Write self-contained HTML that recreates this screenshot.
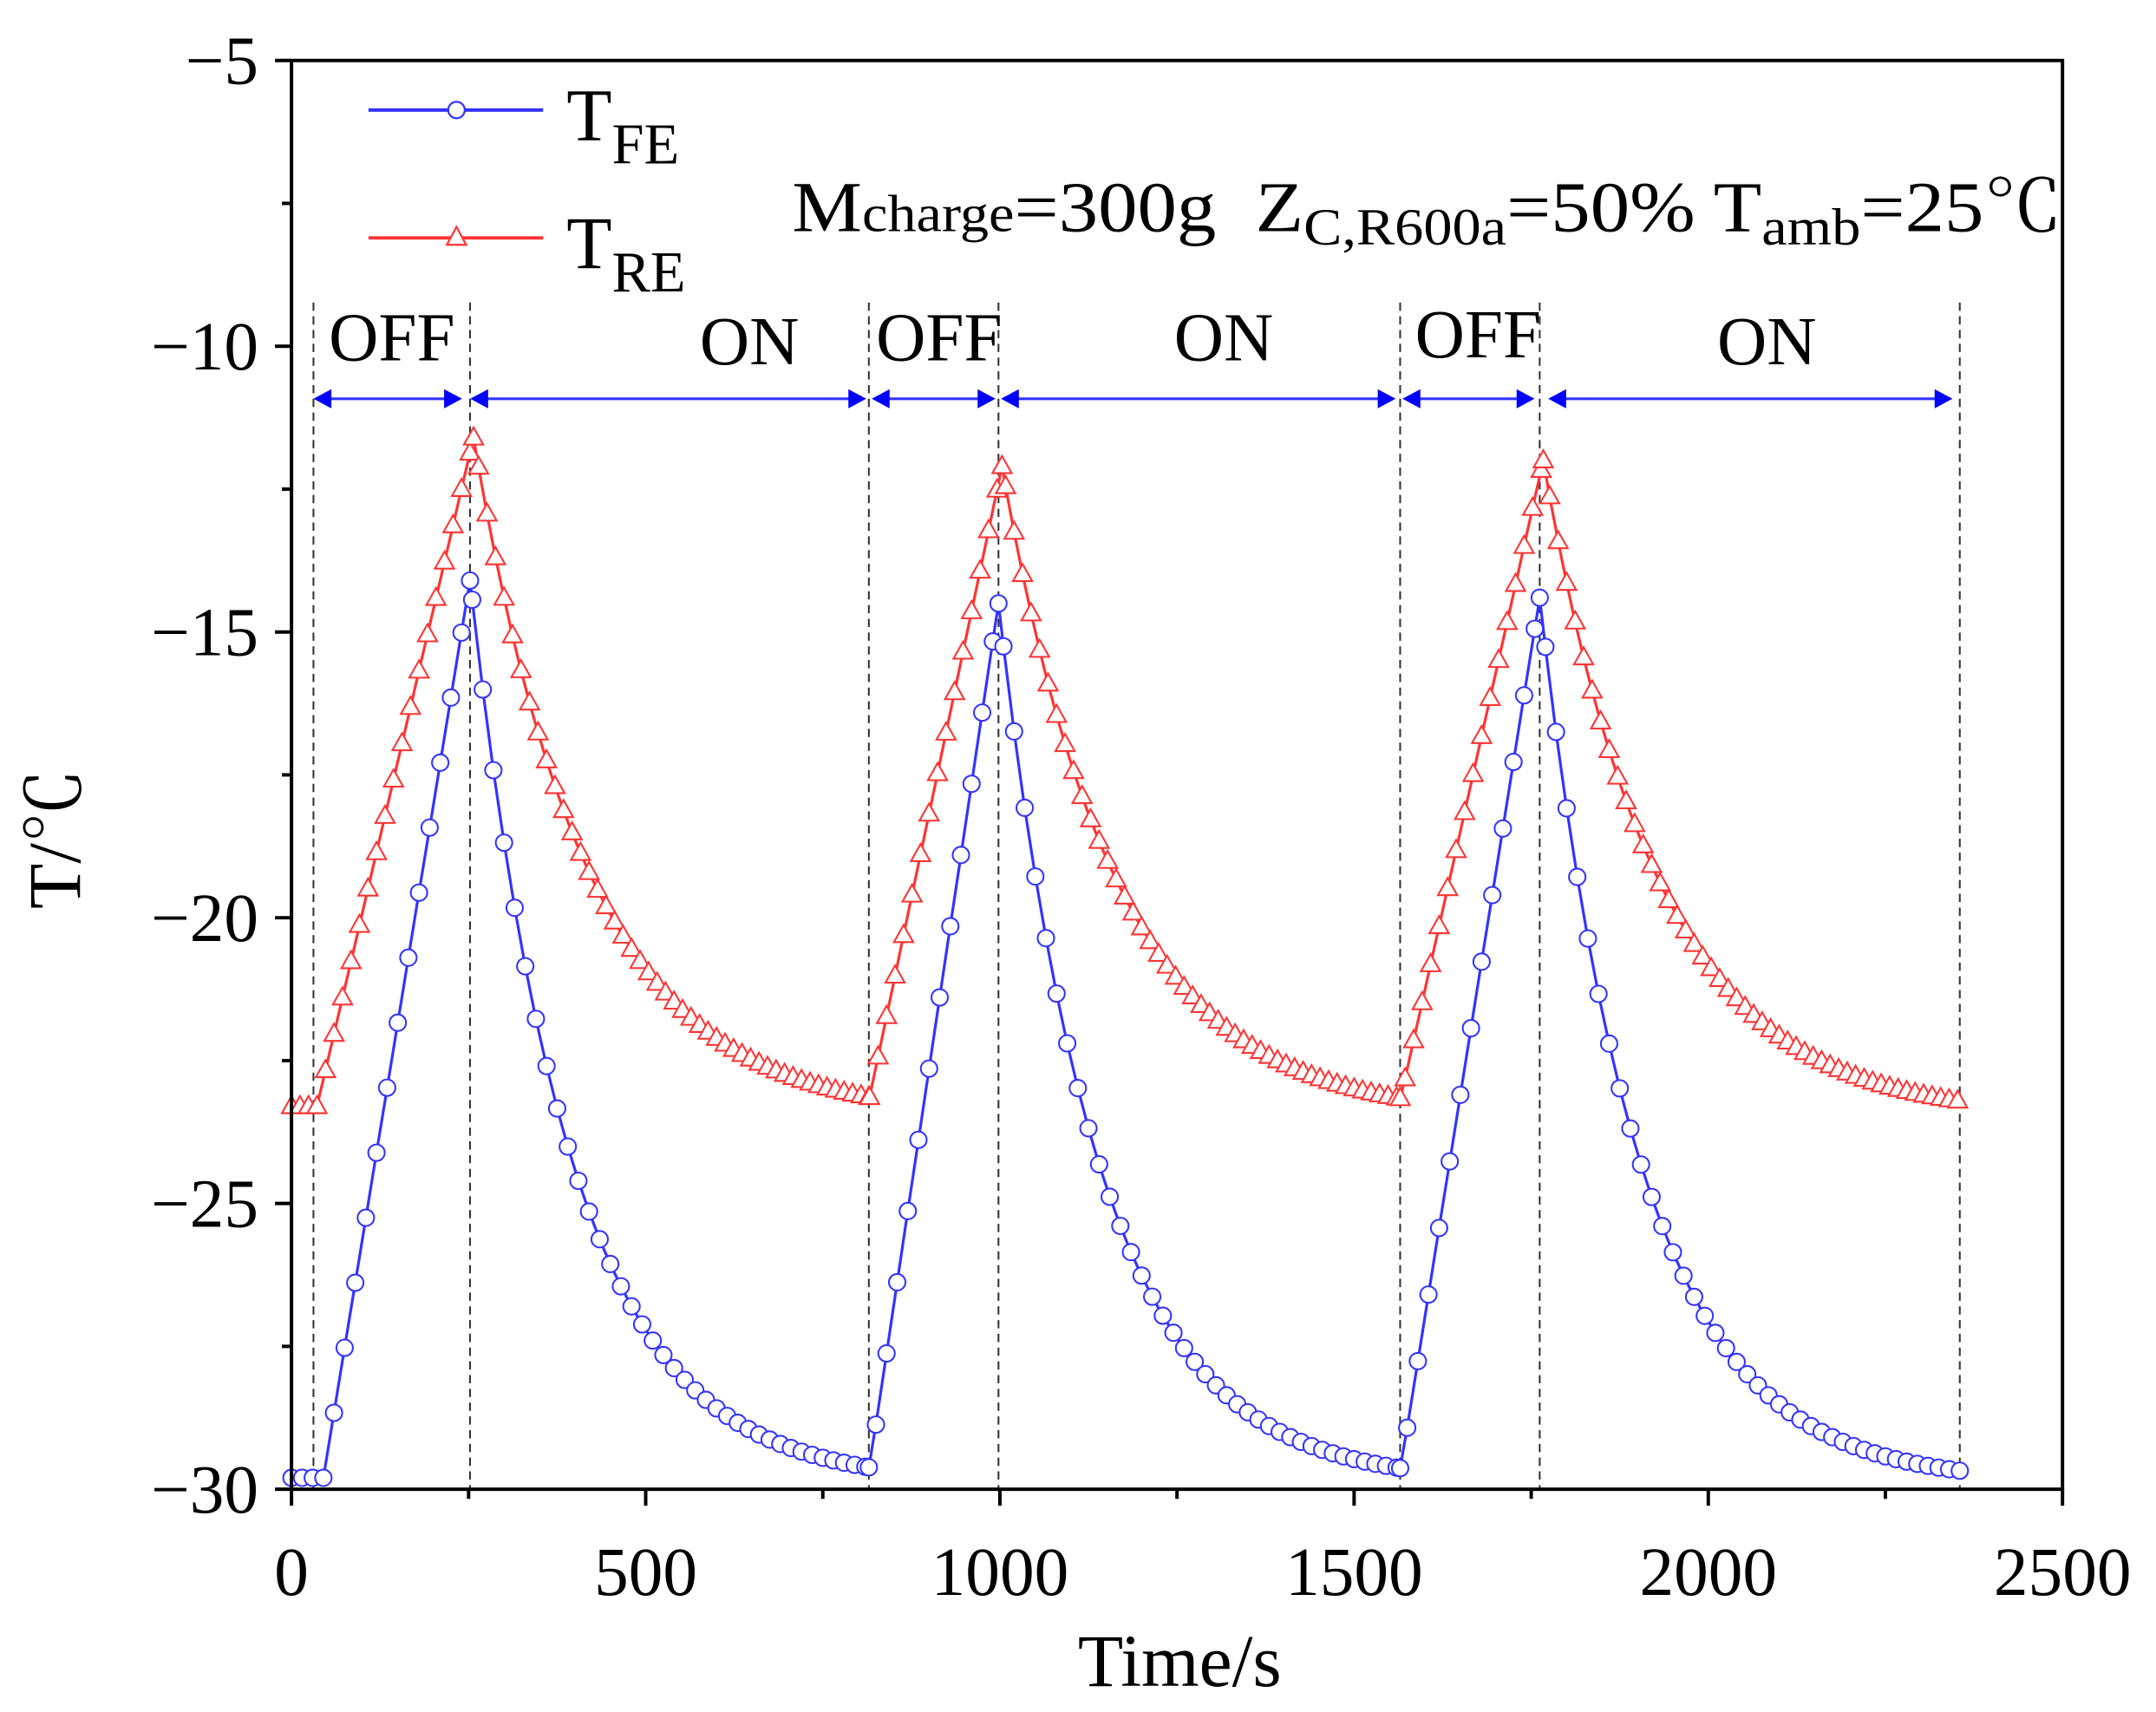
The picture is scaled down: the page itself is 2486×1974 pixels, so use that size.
<!DOCTYPE html>
<html><head><meta charset="utf-8"><style>
html,body{margin:0;padding:0;background:#fff;}
svg{display:block;}
text{font-family:"Liberation Serif","Noto Serif CJK SC",serif;fill:#000;}
</style></head><body>
<svg id="s" width="2486" height="1974" viewBox="0 0 1568 1245" preserveAspectRatio="none" xmlns="http://www.w3.org/2000/svg">
<rect width="1568" height="1245" fill="#fff"/>
<g id="dash" stroke="#333" stroke-width="1.3" stroke-dasharray="6,4"></g>
<g id="series"></g>
<rect x="212" y="44" width="1288" height="1039" fill="none" stroke="#000" stroke-width="2.5"/>
<g id="ticks" stroke="#000" stroke-width="2.5"></g>
<g id="labels" font-size="50"></g>
<g id="arrows"></g>
<line x1="268" y1="80" x2="395" y2="80" stroke="#3333ff" stroke-width="2.5"/>
<circle cx="332" cy="80" r="6" fill="#fff" stroke="#3333ff" stroke-width="1.4"/>
<text x="412" y="102" font-size="54">T<tspan font-size="42" dy="17">FE</tspan></text>
<line x1="268" y1="173" x2="395" y2="173" stroke="#ff3333" stroke-width="2.5"/>
<polygon points="332,165 339,178 325,178" fill="#fff" stroke="#ff3333" stroke-width="1.4"/>
<text x="412" y="195" font-size="54">T<tspan font-size="42" dy="17">RE</tspan></text>
<text x="576" y="168" font-size="52" textLength="924" lengthAdjust="spacingAndGlyphs">M<tspan font-size="38">charge</tspan>=300g&#160; Z<tspan font-size="38" dy="10">C,R600a</tspan><tspan dy="-10">=50% T</tspan><tspan font-size="38" dy="10">amb</tspan><tspan dy="-10">=25℃</tspan></text>
<text x="858" y="1226" font-size="54" text-anchor="middle">Time/s</text>
<text transform="translate(58,610) rotate(-90)" font-size="54" text-anchor="middle">T/℃</text>
</svg>
<script>
const NS="http://www.w3.org/2000/svg";
const X=t=>212+t*1288/2500, Y=v=>44+(-5-v)*1039/25;
function el(p,tag,a,txt){const e=document.createElementNS(NS,tag);for(const k in a)e.setAttribute(k,a[k]);if(txt)e.textContent=txt;document.getElementById(p).appendChild(e);return e;}
for(let v=-5;v>=-30;v-=2.5){const y=Y(v);const maj=(v%5===0);el('ticks','line',{x1:212,y1:y,x2:maj?200:205,y2:y});
 if(maj) el('labels','text',{x:188,y:y+17,'text-anchor':'end'},'\u2212'+Math.abs(v));}
for(let t=0;t<=2500;t+=250){const x=X(t);const maj=(t%500===0);el('ticks','line',{x1:x,y1:1083,x2:x,y2:maj?1095:1090});
 if(maj) el('labels','text',{x:x,y:1160,'text-anchor':'middle'},String(t));}
[31,252,815,998,1565,1762,2355].forEach(t=>el('dash','line',{x1:X(t),y1:220,x2:X(t),y2:1083}));
const ay=290;
[[228,336],[342,630],[634,724],[728,1015],[1020,1116],[1126,1420]].forEach(([a,b])=>{
 el('arrows','line',{x1:a+8,y1:ay,x2:b-8,y2:ay,stroke:'#3333ff','stroke-width':2});
 el('arrows','polygon',{points:`${a},${ay} ${a+13},${ay-7} ${a+13},${ay+7}`,fill:'#0000ff'});
 el('arrows','polygon',{points:`${b},${ay} ${b-13},${ay-7} ${b-13},${ay+7}`,fill:'#0000ff'});
});
[['OFF',285,262],['ON',545,265],['OFF',683,262],['ON',890,262],['OFF',1075,260],['ON',1285,265]].forEach(([s,x,y])=>el('labels','text',{x:x,y:y,'text-anchor':'middle'},s));
const cycles=[{s:31,p:252,e:815},{s:815,p:998,e:1565},{s:1565,p:1762,e:2355}];
function blue(t){
 if(t<=45)return -29.8;
 for(let i=0;i<3;i++){const c=cycles[i]; if(t<=c.e+0.01){
   const pk=[-14.1,-14.5,-14.4][i];
   const st=(i===0)?45:c.s; const sv=(i===0)?-29.8:-29.7;
   if(t<=c.p) return sv+(pk-sv)*(t-st)/(c.p-st);
   return -29.9+(pk+29.9)*Math.exp(-(t-c.p)/140);
 }}
 return -29.7;}
function red(t){
 if(t<=38)return -23.3;
 for(let i=0;i<3;i++){const c=cycles[i]; if(t<=c.e+0.01){
   const pk=[-11.6,-12.1,-12.0][i];const pt=c.p+5;
   const st=(i===0)?38:c.s; const sv=-23.2;
   if(t<=pt) return sv+(pk-sv)*(t-st)/(pt-st);
   return -23.5+(pk+23.5)*Math.exp(-(t-pt)/160);
 }}
 return -23.2;}
function series(f,dt,col,mk,extra){
 let pts=[];
 for(let t=0;t<=2355;t+=dt){pts.push([t,f(t)]);}
 extra.forEach(t=>pts.push([t,f(t)]));
 pts.sort((a,b)=>a[0]-b[0]);
 el('series','polyline',{points:pts.map(p=>X(p[0]).toFixed(1)+','+Y(p[1]).toFixed(1)).join(' '),fill:'none',stroke:col,'stroke-width':2});
 pts.forEach(p=>{const x=X(p[0]),y=Y(p[1]);
  if(mk==='c') el('series','circle',{cx:x,cy:y,r:6,fill:'#fff',stroke:col,'stroke-width':1.3});
  else el('series','polygon',{points:`${x},${y-7.5} ${x+7},${y+5} ${x-7},${y+5}`,fill:'#fff',stroke:col,'stroke-width':1.3});});
}
series(red,12,'#ff3333','t',[257,1003,1767,815,1565]);
series(blue,15,'#3333ff','c',[252,998,1762,815,1565]);
</script>
</body></html>
